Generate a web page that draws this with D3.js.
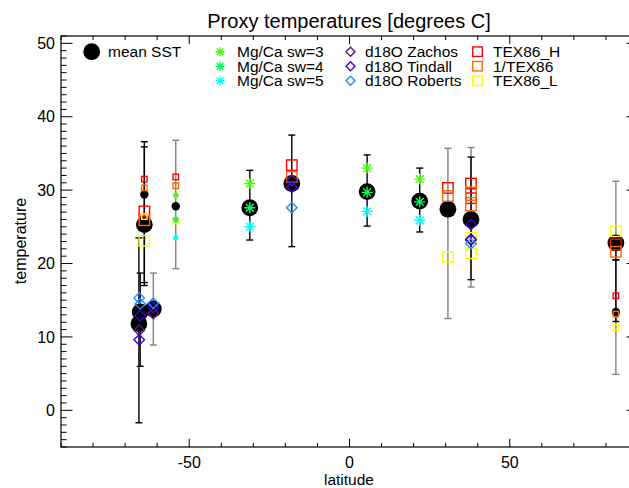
<!DOCTYPE html>
<html><head><meta charset="utf-8">
<script src="https://cdn.jsdelivr.net/npm/d3@7"></script>
<style>body{margin:0;background:#fff}svg{display:block;font-family:"Liberation Sans",Arial,sans-serif}</style>
</head><body><svg id="c" width="629" height="488"></svg>
<script>
// ---------- data ----------
const xTicks = [-50, 0, 50];
const yTicks = [0, 10, 20, 30, 40, 50];
const legendLabels = ["mean SST","Mg/Ca sw=3","Mg/Ca sw=4","Mg/Ca sw=5","d18O Zachos","d18O Tindall","d18O Roberts","TEX86_H","1/TEX86","TEX86_L"];

// site means (large) and their error bars
const meanLat = [-65.7, -65.3, -61.2, -64.0, -31.1, -18.0, 5.5, 21.9, 30.7, 37.9, 83.1];
const meanSST = [11.8, 13.4, 13.8, 25.3, 27.6, 30.9, 29.8, 28.5, 27.4, 26.0, 22.8];
const meanLo  = [-1.7, 6.0, null, 17.0, 23.2, 22.3, 25.1, 24.3, null, 17.8, 20.5];
const meanHi  = [23.5, 18.7, null, 36.6, 32.7, 37.5, 34.8, 33.0, null, 34.5, 23.8];
// sub-sample means (small)
const subLat = [-64.0, -54.2, 83.1];
const subSST = [29.4, 27.8, 13.4];
const subLo  = [17.4, null, 12.1];
const subHi  = [35.9, null, 20.5];
// full ranges (grey bars)
const rangeLat = [-61.2, -54.2, 30.7, 37.9, 83.1];
const rangeLo  = [8.9, 19.3, 12.5, 16.8, 4.9];
const rangeHi  = [18.7, 36.8, 35.7, 35.8, 31.2];

// proxies: [lat, temperature]
const texH      = [[-64.0,27.1],[-18.0,33.4],[30.7,30.3],[37.9,30.9],[37.9,28.9],[83.1,22.6]];
const texHSmall = [[-64.0,31.5],[-54.2,31.8],[83.1,15.6]];
const tex1      = [[-64.0,25.9],[-18.0,31.8],[30.7,29.2],[37.9,29.7],[37.9,27.9],[83.1,21.6]];
const tex1Small = [[-64.0,30.3],[-54.2,30.6],[83.1,13.1]];
const texL      = [[-64.0,23.1],[30.7,20.9],[37.9,23.5],[37.9,21.4],[83.1,24.4]];
const texLSmall = [[-64.0,26.4],[-54.2,25.8],[83.1,11.3]];
const mg3       = [[-31.1,30.9],[5.5,33.0],[21.9,31.5]];
const mg3Small  = [[-54.2,29.3]];
const mg4       = [[-31.1,27.6],[5.5,29.7],[21.9,28.4]];
const mg4Small  = [[-54.2,26.0]];
const mg5       = [[-31.1,25.0],[5.5,27.1],[21.9,25.9]];
const mg5Small  = [[-54.2,23.5]];
const zachos    = [[-65.6,10.9],[-61.2,13.2],[-18.0,31.3],[37.9,23.2]];
const tindall   = [[-65.3,12.9],[-65.6,9.6],[-61.2,14.0],[-18.0,30.4],[37.9,25.3],[37.9,23.3]];
const roberts   = [[-65.6,15.3],[-65.3,14.5],[-61.2,14.6],[-18.0,27.6],[37.9,22.7]];

// ---------- drawing ----------
const svg = d3.select("#c");
const L = 61, R = 638, T = 36, B = 447;
const x = d3.scaleLinear().domain([-90, 90]).range([L, R]);
const y = d3.scaleLinear().domain([-5, 51]).range([B, T]);

const col = {
  texH:"#ff0000", tex1:"#ff6a00", texL:"#ffff00",
  mg3:"#44ff00", mg4:"#00ff55", mg5:"#00ffff",
  zachos:"#5c1488", tindall:"#3c00e6", roberts:"#1e90ff"
};

// frame
const g = svg.append("g");
g.append("rect").attr("x",L).attr("y",T).attr("width",R-L).attr("height",B-T)
  .attr("fill","none").attr("stroke","#000").attr("stroke-width",1.2);

// ticks
const xMinor = d3.range(-90, 91, 10);
xMinor.forEach(v => {
  const major = xTicks.includes(v);
  const len = major ? 8.2 : 4.1;
  g.append("line").attr("x1",x(v)).attr("x2",x(v)).attr("y1",B).attr("y2",B-len).attr("stroke","#000");
  g.append("line").attr("x1",x(v)).attr("x2",x(v)).attr("y1",T).attr("y2",T+len).attr("stroke","#000");
});
const yMinor = d3.range(-5, 52, 1);
yMinor.forEach(v => {
  const major = yTicks.includes(v);
  const len = major ? 11.5 : 5.5;
  g.append("line").attr("x1",L).attr("x2",L+len).attr("y1",y(v)).attr("y2",y(v)).attr("stroke","#000");
  g.append("line").attr("x1",R).attr("x2",R-len).attr("y1",y(v)).attr("y2",y(v)).attr("stroke","#000");
});
xTicks.forEach(v => g.append("text").attr("x",x(v)).attr("y",468).attr("text-anchor","middle")
  .attr("font-size",16).text(v));
yTicks.forEach(v => g.append("text").attr("x",55).attr("y",y(v)+5.6).attr("text-anchor","end")
  .attr("font-size",16).text(v));

svg.append("text").attr("x",349).attr("y",28).attr("text-anchor","middle").attr("font-size",20)
  .text("Proxy temperatures [degrees C]");
svg.append("text").attr("x",349).attr("y",484.5).attr("text-anchor","middle").attr("font-size",15.5).text("latitude");
svg.append("text").attr("transform","translate(26,241) rotate(-90)").attr("text-anchor","middle")
  .attr("font-size",16).text("temperature");

// error bars
function bar(lat, lo, hi, color) {
  if (lo == null || hi == null) return;
  const gx = x(lat);
  g.append("line").attr("x1",gx).attr("x2",gx).attr("y1",y(lo)).attr("y2",y(hi)).attr("stroke",color).attr("stroke-width",1.4);
  [lo, hi].forEach(v => g.append("line").attr("x1",gx-3.5).attr("x2",gx+3.5).attr("y1",y(v)).attr("y2",y(v))
    .attr("stroke",color).attr("stroke-width",1.4));
}
rangeLat.forEach((v,i) => bar(v, rangeLo[i], rangeHi[i], "#808080"));
meanLat.forEach((v,i) => bar(v, meanLo[i], meanHi[i], "#000"));
subLat.forEach((v,i) => bar(v, subLo[i], subHi[i], "#000"));

// circles
meanLat.forEach((v,i) => g.append("circle").attr("cx",x(v)).attr("cy",y(meanSST[i])).attr("r",8.4).attr("fill","#000"));
subLat.forEach((v,i) => g.append("circle").attr("cx",x(v)).attr("cy",y(subSST[i])).attr("r",4.2).attr("fill","#000"));

// symbols
function square(cx, cy, s, c) {
  g.append("rect").attr("x",cx-s/2).attr("y",cy-s/2).attr("width",s).attr("height",s)
    .attr("fill","none").attr("stroke",c).attr("stroke-width",1.4);
}
function diamond(cx, cy, s, c) {
  const h = s/2;
  g.append("path").attr("d",`M${cx},${cy-h}L${cx+h},${cy}L${cx},${cy+h}L${cx-h},${cy}Z`)
    .attr("fill","none").attr("stroke",c).attr("stroke-width",1.4);
}
function asterisk(cx, cy, s, c) {
  const h = s/2, d = h*0.72;
  g.append("path").attr("d",`M${cx},${cy-h}V${cy+h}M${cx-h},${cy}H${cx+h}M${cx-d},${cy-d}L${cx+d},${cy+d}M${cx-d},${cy+d}L${cx+d},${cy-d}`)
    .attr("fill","none").attr("stroke",c).attr("stroke-width",1.4);
}
function draw(list, fn, s, c) { list.forEach(p => fn(x(p[0]), y(p[1]), s, c)); }

draw(texH, square, 10.5, col.texH); draw(texHSmall, square, 5.5, col.texH);
draw(tex1, square, 10.5, col.tex1); draw(tex1Small, square, 5.5, col.tex1);
draw(texL, square, 10.5, col.texL); draw(texLSmall, square, 5.5, col.texL);
draw(mg3, asterisk, 11, col.mg3); draw(mg3Small, asterisk, 6, col.mg3);
draw(mg4, asterisk, 11, col.mg4); draw(mg4Small, asterisk, 6, col.mg4);
draw(mg5, asterisk, 11, col.mg5); draw(mg5Small, asterisk, 6, col.mg5);
draw(zachos, diamond, 10.5, col.zachos);
draw(tindall, diamond, 10.5, col.tindall);
draw(roberts, diamond, 10.5, col.roberts);

// legend
const lg = svg.append("g");
const rowY = [51.7, 66.2, 80.7];
const legFont = 15.5;
lg.append("circle").attr("cx",91.7).attr("cy",rowY[0]).attr("r",8.4).attr("fill","#000");
lg.append("text").attr("x",108).attr("y",rowY[0]+5.4).attr("font-size",legFont).text(legendLabels[0]);
const legCols = [
  {sx:220, tx:237, fn:asterisk, s:9, items:[[1,col.mg3],[2,col.mg4],[3,col.mg5]]},
  {sx:350.5, tx:365, fn:diamond, s:9, items:[[4,col.zachos],[5,col.tindall],[6,col.roberts]]},
  {sx:477.5, tx:493, fn:square, s:9.5, items:[[7,col.texH],[8,col.tex1],[9,col.texL]]}
];
legCols.forEach(c => c.items.forEach((it,j) => {
  const cy = rowY[j];
  c.fn(c.sx, cy, c.s, it[1]);
  lg.append("text").attr("x",c.tx).attr("y",cy+5.4).attr("font-size",legFont).text(legendLabels[it[0]]);
}));
</script></body></html>
